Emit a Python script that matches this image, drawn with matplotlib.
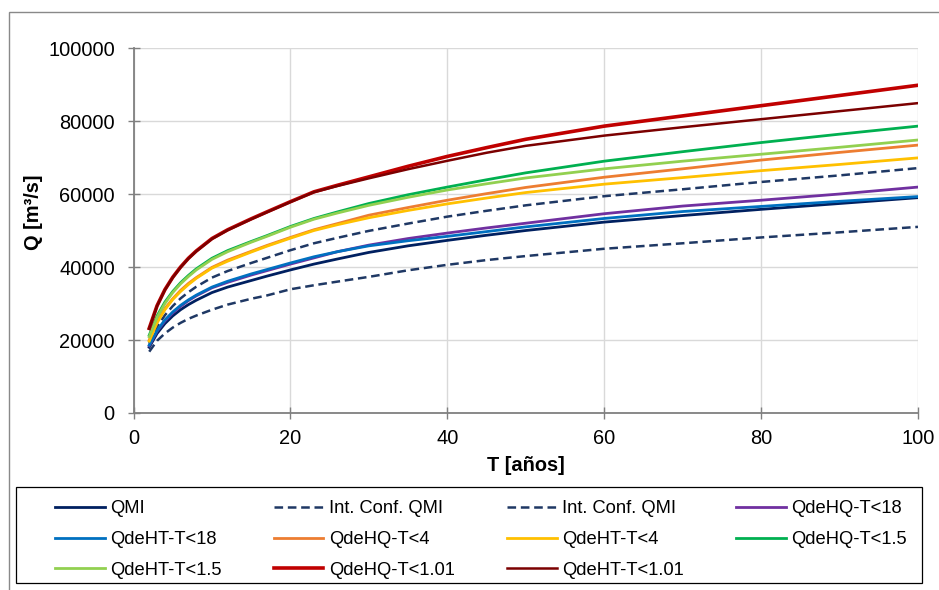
import matplotlib
matplotlib.use('Agg')
from matplotlib import pyplot
from matplotlib.patches import Rectangle

pyplot.rcParams['font.family'] = ['Liberation Sans', 'DejaVu Sans']
pyplot.rcParams['lines.scale_dashes'] = False

# return period [years]
T = [2, 3, 4, 5, 6, 7, 8, 10, 12, 15, 17, 20, 23, 26, 30, 35, 40, 45, 50, 60, 70, 80, 90, 100]

# discharge [m3/s]
qmi = [18000, 21800, 24500, 26600, 28300, 29700, 30900, 33000, 34500, 36300, 37500, 39200,
       40800, 42200, 44000, 45800, 47300, 48700, 50000, 52300, 54100, 55800, 57400, 59000]
ic_sup = [19000, 23600, 26800, 29300, 31400, 33100, 34600, 37100, 38900, 41100, 42500, 44600,
          46500, 48000, 49900, 51900, 53800, 55400, 56900, 59400, 61300, 63300, 65100, 67100]
ic_inf = [16800, 19800, 21800, 23400, 24700, 25800, 26700, 28300, 29700, 31300, 32200, 33900,
          35000, 36000, 37300, 39100, 40600, 41900, 43000, 45000, 46500, 48100, 49500, 51000]
hq_18 = [18400, 22400, 25200, 27400, 29200, 30800, 32100, 34300, 35800, 37800, 39000, 40800,
         42500, 44200, 46000, 47800, 49300, 50700, 52000, 54600, 56700, 58300, 60000, 61900]
ht_18 = [18600, 22600, 25500, 27700, 29500, 31000, 32300, 34500, 36100, 38100, 39300, 41100,
         42800, 44200, 45800, 47200, 48400, 49700, 51000, 53300, 55200, 56600, 58000, 59300]
hq_4 = [20000, 25000, 28600, 31300, 33600, 35500, 37100, 39900, 41900, 44300, 45900, 48100,
        50200, 51900, 54200, 56300, 58300, 60100, 61800, 64600, 66900, 69300, 71400, 73400]
ht_4 = [19700, 24700, 28300, 31100, 33300, 35200, 36900, 39700, 41600, 44100, 45700, 47900,
        50000, 51600, 53500, 55500, 57300, 58900, 60400, 62700, 64500, 66400, 68100, 69900]
hq_15 = [21300, 26600, 30400, 33300, 35700, 37700, 39500, 42400, 44500, 47000, 48600, 51100,
         53300, 55100, 57400, 59800, 61900, 63900, 65800, 69000, 71600, 74100, 76400, 78600]
ht_15 = [20900, 26200, 30000, 33000, 35400, 37400, 39200, 42100, 44200, 46800, 48400, 50900,
         53100, 54800, 56900, 59100, 61100, 62800, 64400, 66900, 69000, 70900, 72800, 74800]
hq_101 = [23200, 29400, 33800, 37200, 40000, 42400, 44400, 47800, 50200, 53200, 55100, 57900,
          60600, 62400, 64700, 67600, 70300, 72700, 75000, 78600, 81400, 84200, 87000, 89800]
ht_101 = [23100, 29300, 33700, 37100, 39900, 42300, 44300, 47700, 50100, 53100, 55000, 57800,
          60500, 62200, 64300, 66800, 69100, 71300, 73200, 76000, 78300, 80500, 82700, 84900]

fig = pyplot.figure(figsize=(9.39, 5.9), dpi=100)
ax = fig.add_axes([0.1422, 0.3, 0.8354, 0.6186])

dash = (0, (6.2, 3.4))
l_qmi, = ax.plot(T, qmi, color='#002060', lw=2.0, label='QMI')
l_ics, = ax.plot(T, ic_sup, color='#1F3864', lw=1.8, ls=dash, label='Int. Conf. QMI')
l_ici, = ax.plot(T, ic_inf, color='#1F3864', lw=1.8, ls=dash, label='Int. Conf. QMI')
l_hq18, = ax.plot(T, hq_18, color='#7030A0', lw=2.0, label='QdeHQ-T<18')
l_ht18, = ax.plot(T, ht_18, color='#0070C0', lw=2.0, label='QdeHT-T<18')
l_hq4, = ax.plot(T, hq_4, color='#ED7D31', lw=2.0, label='QdeHQ-T<4')
l_ht4, = ax.plot(T, ht_4, color='#FFC000', lw=2.0, label='QdeHT-T<4')
l_hq15, = ax.plot(T, hq_15, color='#00B050', lw=2.0, label='QdeHQ-T<1.5')
l_ht15, = ax.plot(T, ht_15, color='#92D050', lw=2.0, label='QdeHT-T<1.5')
l_hq101, = ax.plot(T, hq_101, color='#C00000', lw=2.6, label='QdeHQ-T<1.01')
l_ht101, = ax.plot(T, ht_101, color='#7B0000', lw=1.8, label='QdeHT-T<1.01')

ax.set_xlim(0, 100)
ax.set_ylim(0, 100000)
ax.set_xticks(range(0, 101, 20))
ax.set_yticks(range(0, 100001, 20000))
ax.grid(True, color='#D9D9D9', lw=1.0)
ax.set_axisbelow(True)
for s in ['top', 'right']:
    ax.spines[s].set_visible(False)
for s in ['left', 'bottom']:
    ax.spines[s].set_color('#808080')
    ax.spines[s].set_linewidth(1.3)
ax.tick_params(direction='inout', length=9, width=1.0, color='#808080',
               labelsize=14.4, labelcolor='black')
ax.tick_params(axis='y', pad=9)
ax.tick_params(axis='x', pad=7)

ax.set_xlabel('T [años]', fontsize=14.4, fontweight='bold', va='center')
ax.xaxis.set_label_coords(0.5, -0.145)
ax.set_ylabel('Q [m³/s]', fontsize=14.4, fontweight='bold', va='center')
ax.yaxis.set_label_coords(-0.127, 0.551)

# legend is column-major, so order the handles to read row by row
hs = [l_qmi, l_ht18, l_ht15, l_ics, l_hq4, l_hq101, l_ici, l_ht4, l_ht101, l_hq18, l_hq15]
fig.legend(hs, [h.get_label() for h in hs], ncol=4, mode='expand',
           loc='center', bbox_to_anchor=(55/939, 0.0856, 852/939, 0.0),
           frameon=False, fontsize=13.2, handlelength=2.7, handletextpad=0.3,
           labelspacing=0.75, borderpad=0, borderaxespad=0)

# legend frame and chart border
fig.patches.append(Rectangle((16/939, 7/590), 906/939, 96/590, transform=fig.transFigure,
                             fill=False, ec='black', lw=0.9))
fig.patches.append(Rectangle((9/939, -0.1), 1.2, 1.1 - 12/590, transform=fig.transFigure,
                             fill=False, ec='#898989', lw=1.0))

fig.savefig('out.png', dpi=100)
